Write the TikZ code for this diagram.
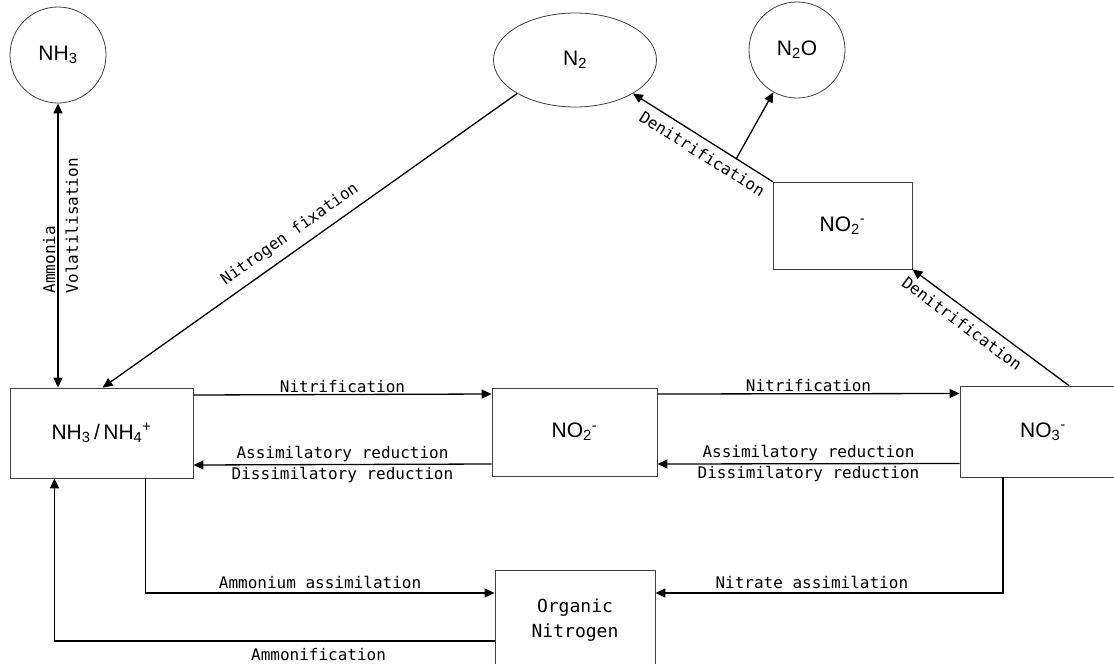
\documentclass[tikz,border=0pt]{standalone}
\usepackage{fontspec}
\setmainfont{Liberation Sans}
\newfontfamily\lblfont{DejaVu Sans Mono}
\usetikzlibrary{shapes.geometric,arrows.meta}

\begin{document}
\begin{tikzpicture}[x=1pt,y=-1pt,
    >={Triangle[length=10pt,width=9pt]},
    pool/.style={draw=black!75, line width=0.8pt, inner sep=0pt, font=\fontsize{21}{24}\selectfont},
    box/.style={pool, rectangle},
    gas/.style={pool, circle},
    flow/.style={line width=1.3pt, ->},
    lbl/.style={font=\lblfont\fontsize{16}{18}\selectfont, inner sep=2pt},
  ]
  \useasboundingbox (0,0) rectangle (1114,664);
  \clip (0,0) rectangle (1114,664);

  % Gaseous forms
  \node[gas, minimum size=96pt] (nh3) at (58,55) {NH\textsubscript{3}};
  \node[pool, ellipse, minimum width=163pt, minimum height=94pt] (n2) at (575,60) {N\textsubscript{2}};
  \node[gas, minimum size=96pt] (n2o) at (797,50) {N\textsubscript{2}O};

  % Pools
  \node[box, minimum width=183pt, minimum height=90pt] (amm) at (101.5,433) {NH\textsubscript{3}\,/\,NH\textsubscript{4}\textsuperscript{+}};
  \node[box, minimum width=165pt, minimum height=88pt] (no2) at (574.5,432) {NO\textsubscript{2}\textsuperscript{-}};
  \node[box, minimum width=166pt, minimum height=91pt] (no3) at (1043,431.5) {NO\textsubscript{3}\textsuperscript{-}};
  \node[box, minimum width=139pt, minimum height=87pt] (no2up) at (842.5,225.5) {NO\textsubscript{2}\textsuperscript{-}};
  \node[box, minimum width=160pt, minimum height=100pt, align=center,
        font=\lblfont\fontsize{18}{25}\selectfont] (org) at (575,620) {Organic\\Nitrogen};

  % Volatilisation and fixation
  \draw[flow, <->] (nh3.south |- amm.north) -- node[lbl, sloped, above, pos=0.45] {Ammonia}
    node[lbl, sloped, below=5pt, pos=0.57] {Volatilisation} (nh3.south);
  \draw[flow, <-] ([xshift=93pt]amm.north west) -- node[lbl, sloped, above=6pt, pos=0.475] {Nitrogen fixation} (n2.south west);

  % Denitrification
  \draw[flow, <-] (n2.south east) -- coordinate[pos=0.74] (fork)
    node[lbl, sloped, below=5pt, pos=0.55] {Denitrification} (no2up.north west);
  \draw[flow] (fork) -- (n2o);
  \draw[flow, <-] (no2up.south east) -- node[lbl, sloped, below=5pt, pos=0.37] {Denitrification} ([xshift=26pt]no3.north);

  % Nitrification and reduction
  \draw[flow] ([yshift=38pt]amm.east) -- node[lbl, above, inner sep=1pt] {Nitrification} ([yshift=38pt]no2.west);
  \draw[flow] ([yshift=38pt]no2.east) -- node[lbl, above, inner sep=1pt] {Nitrification} ([yshift=38pt]no3.west);
  \draw[flow] ([yshift=-32pt]no2.west) -- node[lbl, above] {Assimilatory reduction}
    node[lbl, below] {Dissimilatory reduction} ([yshift=-32pt]amm.east);
  \draw[flow] ([yshift=-32pt]no3.west) -- node[lbl, above] {Assimilatory reduction}
    node[lbl, below] {Dissimilatory reduction} ([yshift=-32pt]no2.east);

  % Assimilation and ammonification
  \draw[flow] ([xshift=44pt]amm.south) |- node[lbl, above=2pt, pos=0.75] {Ammonium assimilation} ([yshift=27pt]org.west);
  \draw[flow] ([xshift=-40pt]no3.south) |- node[lbl, above=2pt, pos=0.775] {Nitrate assimilation} ([yshift=27pt]org.east);
  \draw[flow] ([yshift=-21pt]org.west) -| node[lbl, below=5pt, pos=0.2] {Ammonification} ([xshift=-47pt]amm.south);
\end{tikzpicture}
\end{document}
